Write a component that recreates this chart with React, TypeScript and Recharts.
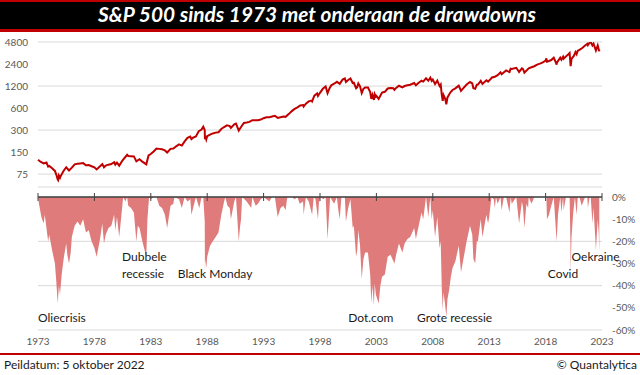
import React from 'react';
import { LineChart, Line, AreaChart, Area, XAxis, YAxis, CartesianGrid, ReferenceDot, ReferenceLine } from 'recharts';

const yearTicks = [1973, 1978, 1983, 1988, 1993, 1998, 2003, 2008, 2013, 2018, 2023];
const priceTicks = [75, 150, 300, 600, 1200, 2400, 4800];
const drawdownTicks = [0, -10, -20, -30, -40, -50, -60];

// [year, S&P 500 level]
const priceSeries: [number, number][] = [
  [1973.0, 118], [1973.25, 110], [1973.5, 105], [1973.75, 108], [1973.9, 95], [1974.0, 97], [1974.25, 90], [1974.5, 83],
  [1974.62, 74], [1974.75, 63], [1974.78, 62], [1974.85, 72], [1974.95, 67], [1975.0, 70], [1975.25, 82], [1975.5, 93],
  [1975.75, 84], [1976.0, 92], [1976.25, 102], [1976.5, 104], [1976.75, 105], [1977.0, 106], [1977.25, 99], [1977.5, 100],
  [1977.75, 96], [1978.0, 93], [1978.2, 87], [1978.5, 96], [1978.7, 103], [1978.85, 93], [1979.0, 98], [1979.25, 101],
  [1979.5, 103], [1979.75, 109], [1979.85, 101], [1980.0, 108], [1980.2, 98], [1980.5, 116], [1980.9, 138], [1981.0, 133],
  [1981.25, 132], [1981.5, 131], [1981.72, 112], [1982.0, 120], [1982.25, 111], [1982.6, 102], [1982.8, 135], [1983.0, 141],
  [1983.25, 153], [1983.5, 168], [1983.75, 166], [1984.0, 164], [1984.25, 158], [1984.45, 148], [1984.75, 166], [1985.0, 168],
  [1985.25, 180], [1985.5, 191], [1985.75, 184], [1986.0, 210], [1986.25, 235], [1986.5, 245], [1986.6, 226], [1986.75, 236],
  [1987.0, 245], [1987.25, 290], [1987.5, 305], [1987.65, 334], [1987.78, 300], [1987.8, 225], [1987.85, 250], [1987.92, 224],
  [1988.0, 247], [1988.25, 260], [1988.5, 270], [1988.75, 277], [1989.0, 280], [1989.25, 310], [1989.5, 330], [1989.75, 348],
  [1990.0, 340], [1990.1, 322], [1990.4, 360], [1990.55, 368], [1990.8, 296], [1991.0, 330], [1991.25, 375], [1991.5, 380],
  [1991.75, 388], [1992.0, 410], [1992.25, 408], [1992.5, 410], [1992.75, 418], [1993.0, 436], [1993.25, 450], [1993.5, 448],
  [1993.75, 460], [1994.0, 470], [1994.25, 440], [1994.5, 450], [1994.75, 460], [1994.95, 455], [1995.25, 500], [1995.5, 545],
  [1995.75, 584], [1996.0, 615], [1996.25, 650], [1996.5, 660], [1996.55, 630], [1996.75, 690], [1997.0, 740], [1997.25, 760],
  [1997.3, 740], [1997.5, 885], [1997.75, 950], [1997.82, 877], [1998.0, 970], [1998.25, 1100], [1998.5, 1180], [1998.67, 957],
  [1998.85, 1120], [1999.0, 1229], [1999.25, 1290], [1999.5, 1370], [1999.75, 1290], [2000.0, 1469], [2000.2, 1527], [2000.3, 1360],
  [2000.5, 1450], [2000.7, 1520], [2000.9, 1320], [2001.0, 1330], [2001.2, 1120], [2001.3, 1160], [2001.4, 1300], [2001.55, 1190],
  [2001.7, 965], [2001.85, 1100], [2002.0, 1150], [2002.25, 1150], [2002.45, 990], [2002.55, 800], [2002.65, 910], [2002.78, 776],
  [2002.85, 930], [2002.95, 860], [2003.0, 880], [2003.2, 800], [2003.5, 975], [2003.75, 1000], [2004.0, 1110], [2004.25, 1130],
  [2004.5, 1120], [2004.6, 1063], [2004.75, 1130], [2005.0, 1210], [2005.3, 1150], [2005.5, 1200], [2005.75, 1230], [2006.0, 1250],
  [2006.35, 1320], [2006.5, 1230], [2006.75, 1330], [2007.0, 1418], [2007.15, 1380], [2007.4, 1530], [2007.6, 1420], [2007.78, 1565],
  [2007.9, 1410], [2008.0, 1468], [2008.2, 1275], [2008.4, 1420], [2008.6, 1200], [2008.7, 1260], [2008.8, 900], [2008.88, 752],
  [2008.95, 900], [2009.1, 800], [2009.2, 677], [2009.3, 840], [2009.45, 920], [2009.6, 1000], [2009.75, 1060], [2010.0, 1115],
  [2010.3, 1215], [2010.5, 1030], [2010.75, 1140], [2011.0, 1258], [2011.3, 1360], [2011.5, 1300], [2011.6, 1120], [2011.76, 1099],
  [2011.9, 1250], [2012.0, 1258], [2012.25, 1410], [2012.4, 1280], [2012.75, 1440], [2012.9, 1380], [2013.0, 1426], [2013.25, 1570],
  [2013.5, 1610], [2013.75, 1690], [2014.0, 1848], [2014.1, 1740], [2014.5, 1960], [2014.8, 1860], [2014.9, 2070], [2015.0, 2059],
  [2015.4, 2130], [2015.65, 1870], [2015.9, 2090], [2016.0, 2044], [2016.12, 1829], [2016.5, 2100], [2016.75, 2170], [2017.0, 2239],
  [2017.25, 2360], [2017.5, 2430], [2017.75, 2520], [2018.0, 2674], [2018.07, 2870], [2018.12, 2580], [2018.3, 2640], [2018.5, 2720],
  [2018.72, 2930], [2018.85, 2640], [2018.98, 2351], [2019.0, 2507], [2019.3, 2930], [2019.4, 2750], [2019.55, 3020], [2019.6, 2840],
  [2019.8, 3040], [2020.0, 3231], [2020.13, 3386], [2020.22, 2237], [2020.3, 2830], [2020.5, 3100], [2020.65, 3500], [2020.75, 3270],
  [2020.85, 3640], [2021.0, 3756], [2021.25, 3970], [2021.5, 4300], [2021.7, 4530], [2021.75, 4350], [2021.9, 4700], [2022.0, 4797],
  [2022.15, 4300], [2022.25, 4550], [2022.4, 3900], [2022.46, 3667], [2022.62, 4305], [2022.75, 3586], [2022.76, 3783],
];

// [year, drawdown in %]
const drawdownSeries: [number, number][] = [
  [1973.0, 0], [1973.05, -2], [1973.3, -9], [1973.5, -12], [1973.6, -8], [1973.9, -20], [1974.0, -17], [1974.25, -24],
  [1974.5, -30], [1974.62, -38], [1974.75, -48], [1974.85, -40], [1974.95, -44], [1975.1, -35], [1975.3, -27], [1975.5, -21],
  [1975.6, -26], [1975.75, -30], [1975.9, -25], [1976.0, -18], [1976.25, -13], [1976.5, -11], [1976.75, -13], [1977.0, -10],
  [1977.25, -16], [1977.5, -15], [1977.75, -20], [1978.0, -23], [1978.2, -27], [1978.5, -19], [1978.7, -12], [1978.85, -21],
  [1979.0, -17], [1979.25, -14], [1979.5, -13], [1979.75, -8], [1979.85, -15], [1980.0, -9], [1980.2, -18], [1980.4, -8],
  [1980.55, 0], [1980.75, -2], [1980.9, 0], [1981.0, -4], [1981.25, -5], [1981.5, -7], [1981.72, -20], [1981.85, -13],
  [1982.0, -14], [1982.25, -20], [1982.6, -27], [1982.7, -10], [1982.85, 0], [1983.0, -1], [1983.25, 0], [1983.5, 0],
  [1983.75, -4], [1984.0, -5], [1984.25, -8], [1984.45, -14], [1984.6, -9], [1984.75, -4], [1985.0, -3], [1985.1, 0],
  [1985.5, -1], [1985.75, -5], [1986.0, 0], [1986.25, -2], [1986.5, -1], [1986.6, -8], [1986.7, -6], [1987.0, 0],
  [1987.3, -5], [1987.5, 0], [1987.65, 0], [1987.78, -11], [1987.8, -33], [1987.85, -28], [1987.92, -32], [1988.0, -27],
  [1988.25, -22], [1988.5, -20], [1988.75, -18], [1989.0, -16], [1989.25, -8], [1989.5, -2], [1989.6, 0], [1989.8, -4],
  [1990.0, -5], [1990.1, -10], [1990.4, -2], [1990.55, 0], [1990.8, -20], [1990.9, -14], [1991.0, -10], [1991.1, 0],
  [1991.5, -2], [1991.9, -5], [1992.0, 0], [1992.3, -4], [1992.5, -3], [1992.75, -1], [1993.0, 0], [1993.5, -2],
  [1993.75, 0], [1994.0, 0], [1994.25, -9], [1994.5, -5], [1994.75, -4], [1994.95, -6], [1995.1, 0], [1995.5, 0],
  [1995.75, -1], [1996.0, 0], [1996.2, -3], [1996.5, -2], [1996.55, -8], [1996.75, 0], [1997.0, -2], [1997.3, -8],
  [1997.45, 0], [1997.6, -1], [1997.82, -10], [1997.9, -3], [1998.0, 0], [1998.3, -1], [1998.5, 0], [1998.67, -19],
  [1998.8, -8], [1998.9, 0], [1999.25, -3], [1999.5, 0], [1999.6, -5], [1999.75, -10], [1999.9, 0], [2000.2, 0],
  [2000.3, -11], [2000.5, -5], [2000.7, -1], [2000.9, -14], [2001.0, -13], [2001.2, -27], [2001.3, -24], [2001.4, -15],
  [2001.55, -22], [2001.7, -37], [2001.85, -28], [2002.0, -25], [2002.25, -25], [2002.45, -35], [2002.55, -48], [2002.65, -40],
  [2002.78, -49], [2002.85, -39], [2002.95, -44], [2003.2, -48], [2003.35, -40], [2003.5, -36], [2003.75, -35], [2004.0, -27],
  [2004.25, -26], [2004.6, -30], [2004.75, -26], [2005.0, -21], [2005.3, -25], [2005.5, -21], [2005.75, -19], [2006.0, -18],
  [2006.35, -14], [2006.5, -19], [2006.75, -13], [2007.0, -7], [2007.15, -10], [2007.4, 0], [2007.6, -9], [2007.78, 0],
  [2007.9, -10], [2008.0, -6], [2008.2, -18], [2008.4, -9], [2008.6, -23], [2008.7, -20], [2008.8, -42], [2008.88, -51],
  [2008.95, -43], [2009.1, -49], [2009.2, -54], [2009.3, -46], [2009.45, -42], [2009.6, -36], [2009.75, -32], [2010.0, -29],
  [2010.3, -22], [2010.5, -34], [2010.75, -27], [2011.0, -20], [2011.3, -13], [2011.5, -17], [2011.6, -28], [2011.76, -30],
  [2011.9, -20], [2012.0, -20], [2012.25, -10], [2012.4, -18], [2012.75, -8], [2012.9, -12], [2013.0, -9], [2013.2, 0],
  [2013.4, -1], [2013.5, -5], [2013.6, 0], [2013.75, -3], [2014.0, 0], [2014.1, -6], [2014.3, 0], [2014.5, 0],
  [2014.8, -7], [2014.9, 0], [2015.0, -3], [2015.4, 0], [2015.65, -12], [2015.9, -2], [2016.0, -5], [2016.12, -14],
  [2016.3, -3], [2016.45, -5], [2016.5, 0], [2016.75, -3], [2017.0, 0], [2017.5, 0], [2018.0, 0], [2018.07, 0],
  [2018.12, -10], [2018.3, -8], [2018.5, -4], [2018.72, 0], [2018.85, -10], [2018.98, -20], [2019.1, -8], [2019.3, 0],
  [2019.4, -7], [2019.55, 0], [2019.6, -6], [2019.8, 0], [2020.0, 0], [2020.13, 0], [2020.2, -20], [2020.22, -34],
  [2020.3, -18], [2020.45, -7], [2020.6, 0], [2020.75, -8], [2020.85, 0], [2021.0, 0], [2021.2, -4], [2021.5, 0],
  [2021.7, 0], [2021.75, -5], [2021.9, 0], [2022.0, 0], [2022.15, -12], [2022.25, -5], [2022.4, -18], [2022.46, -24],
  [2022.62, -10], [2022.72, -17], [2022.75, -25], [2022.76, -21],
];

const annotationLabels = ['Oliecrisis', 'Dubbele', 'recessie', 'Black Monday', 'Dot.com', 'Grote recessie', 'Covid', 'Oekraine'];
const annotationYears = [1973, 1980.45, 1980.45, 1985.4, 2000.5, 2006.6, 2018.2, 2020.3];
const annotationPcts = [-54.6, -27.1, -34.7, -34.7, -54.6, -54.6, -34.7, -27.1];

const priceData = priceSeries.map(([year, value]) => ({ year, value }));
const drawdownData = drawdownSeries.map(([year, dd]) => ({ year, dd }));

const FONT = 'Lato, "Open Sans", sans-serif';
const TICK_COLOR = '#595959';

export default function App() {
  return (
    <div style={{ position: 'absolute', left: 0, top: 0, width: 640, height: 375, background: '#fff', fontFamily: FONT, overflow: 'hidden' }}>
      <svg width={640} height={32} style={{ position: 'absolute', left: 0, top: 0 }}>
        <rect x={0} y={0} width={640} height={2} fill="#C00000" />
        <rect x={0} y={2} width={640} height={27} fill="#000" />
        <rect x={0} y={29} width={640} height={3} fill="#C00000" />
        <text x={98} y={22} fill="#fff" fontSize={20} fontWeight={700} fontStyle="italic" fontFamily={FONT} textLength={438} lengthAdjust="spacingAndGlyphs">
          S&amp;P 500 sinds 1973 met onderaan de drawdowns
        </text>
      </svg>

      <div style={{ position: 'absolute', left: 0, top: 32 }}>
        <LineChart width={640} height={160} data={priceData} margin={{ top: 10, right: 38, bottom: 5, left: 0 }}>
          <CartesianGrid horizontal vertical={false} stroke="#d9d9d9" />
          <XAxis dataKey="year" type="number" domain={[1973, 2023]} hide />
          <YAxis
            type="number"
            scale="log"
            domain={[50, 4800]}
            allowDataOverflow
            ticks={priceTicks}
            width={38}
            axisLine={false}
            tickLine={false}
            tickSize={0}
            tickMargin={10}
            tick={{ fill: TICK_COLOR, fontSize: 10, fontFamily: FONT }}
          />
          <Line dataKey="value" stroke="#C00000" strokeWidth={2} dot={false} isAnimationActive={false} type="linear" />
        </LineChart>
      </div>

      <div style={{ position: 'absolute', left: 0, top: 187 }}>
        <AreaChart width={640} height={173} data={drawdownData} margin={{ top: 10, right: 0, bottom: 0, left: 38 }}>
          <CartesianGrid horizontal vertical={false} stroke="#d9d9d9" />
          <XAxis
            dataKey="year"
            type="number"
            domain={[1973, 2023]}
            ticks={yearTicks}
            interval={0}
            height={30}
            axisLine={false}
            tickLine={false}
            tickSize={0}
            tickMargin={8}
            tick={{ fill: TICK_COLOR, fontSize: 10, fontFamily: FONT }}
          />
          <YAxis
            orientation="right"
            type="number"
            domain={[-60, 0]}
            ticks={drawdownTicks}
            width={38}
            axisLine={false}
            tickLine={false}
            tickSize={0}
            tickMargin={10}
            tickFormatter={(v: number) => `${v}%`}
            tick={{ fill: TICK_COLOR, fontSize: 10, fontFamily: FONT }}
          />
          <Area
            dataKey="dd"
            type="linear"
            stroke="none"
            fill="#E07B7B"
            fillOpacity={1}
            baseValue={0}
            isAnimationActive={false}
          />
          <ReferenceLine y={0} stroke="#404040" strokeWidth={1.5} ifOverflow="visible" />
          {yearTicks.map((yr) => (
            <ReferenceLine
              key={`t${yr}`}
              segment={[{ x: yr, y: 1.8 }, { x: yr, y: -1.8 }]}
              stroke="#404040"
              strokeWidth={1}
              ifOverflow="visible"
            />
          ))}
          {annotationLabels.map((label, i) => (
            <ReferenceDot
              key={label}
              x={annotationYears[i]}
              y={annotationPcts[i]}
              r={0}
              ifOverflow="visible"
              shape={(p: any) => (
                <text x={p.cx} y={p.cy} dy="0.35em" fill="#1a1a1a" fontSize={12} fontFamily={FONT}>
                  {label}
                </text>
              )}
            />
          ))}
        </AreaChart>
      </div>

      <div style={{ position: 'absolute', left: 0, top: 353, width: 640, height: 2, background: '#C00000' }} />
      <div style={{ position: 'absolute', left: 4, top: 357, fontSize: 12, color: '#1a1a1a', fontFamily: FONT }}>Peildatum: 5 oktober 2022</div>
      <div style={{ position: 'absolute', right: 3, top: 357, fontSize: 12, color: '#1a1a1a', fontFamily: FONT }}>© Quantalytica</div>
    </div>
  );
}
